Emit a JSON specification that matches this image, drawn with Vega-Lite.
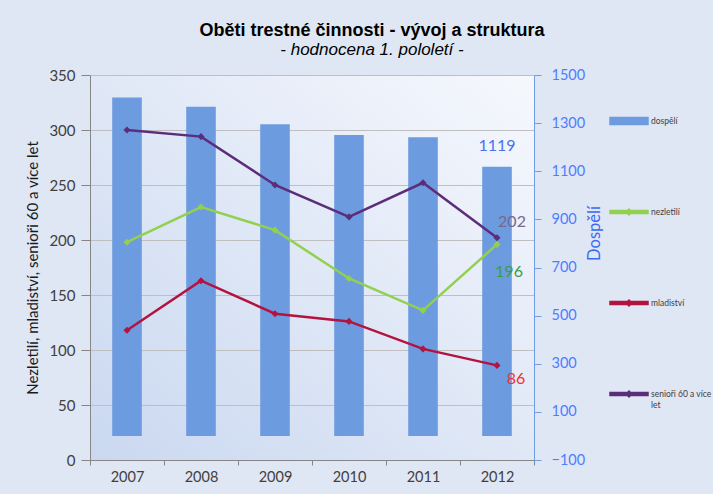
{
  "$schema": "https://vega.github.io/schema/vega-lite/v6.json",
  "width": 444,
  "height": 385,
  "autosize": {"type": "none"},
  "padding": {"left": 90, "top": 75, "right": 179, "bottom": 34},
  "background": "#dfe6f4",
  "config": {
    "font": "Lato",
    "view": {"stroke": null, "fill": {"gradient": "linear", "x1": 1, "y1": 0, "x2": 0, "y2": 1, "stops": [{"offset": 0, "color": "#f6f8fd"}, {"offset": 1, "color": "#cad8f0"}]}}
  },
  "title": {
    "text": "Oběti trestné činnosti - vývoj a struktura",
    "subtitle": "- hodnocena 1. pololetí -",
    "font": "Liberation Sans",
    "fontSize": 18,
    "fontWeight": "bold",
    "color": "#000000",
    "subtitleFont": "Liberation Sans",
    "subtitleFontSize": 17,
    "subtitleFontStyle": "italic",
    "subtitleColor": "#000000",
    "subtitlePadding": 2,
    "anchor": "middle",
    "frame": "group",
    "dx": 60,
    "offset": 9
  },
  "data": {
    "values": [
      {"year": "2007", "series": "dospělí", "value": 1407},
      {"year": "2008", "series": "dospělí", "value": 1368},
      {"year": "2009", "series": "dospělí", "value": 1295},
      {"year": "2010", "series": "dospělí", "value": 1251},
      {"year": "2011", "series": "dospělí", "value": 1241},
      {"year": "2012", "series": "dospělí", "value": 1119},
      {"year": "2007", "series": "nezletilí", "value": 198},
      {"year": "2008", "series": "nezletilí", "value": 230},
      {"year": "2009", "series": "nezletilí", "value": 209},
      {"year": "2010", "series": "nezletilí", "value": 165},
      {"year": "2011", "series": "nezletilí", "value": 136},
      {"year": "2012", "series": "nezletilí", "value": 196},
      {"year": "2007", "series": "mladiství", "value": 118},
      {"year": "2008", "series": "mladiství", "value": 163},
      {"year": "2009", "series": "mladiství", "value": 133},
      {"year": "2010", "series": "mladiství", "value": 126},
      {"year": "2011", "series": "mladiství", "value": 101},
      {"year": "2012", "series": "mladiství", "value": 86},
      {"year": "2007", "series": "senioři 60 a více let", "value": 300},
      {"year": "2008", "series": "senioři 60 a více let", "value": 294},
      {"year": "2009", "series": "senioři 60 a více let", "value": 250},
      {"year": "2010", "series": "senioři 60 a více let", "value": 221},
      {"year": "2011", "series": "senioři 60 a více let", "value": 252},
      {"year": "2012", "series": "senioři 60 a více let", "value": 202}
    ]
  },
  "encoding": {
    "x": {
      "field": "year",
      "type": "ordinal",
      "scale": {"paddingInner": 0, "paddingOuter": 0},
      "axis": {
        "title": null,
        "labelAngle": 0,
        "tickBand": "extent",
        "domainColor": "#868686",
        "tickColor": "#868686",
        "tickSize": 5,
        "labelFontSize": 14.5,
        "labelColor": "#404040",
        "labelPadding": 5
      }
    }
  },
  "layer": [
    {
      "transform": [{"filter": "datum.series == 'dospělí'"}],
      "mark": {"type": "bar", "width": {"band": 0.4}},
      "encoding": {
        "y": {
          "field": "value",
          "type": "quantitative",
          "scale": {"domain": [-100, 1500], "nice": false},
          "axis": {
            "orient": "right",
            "format": "d",
            "values": [-100, 100, 300, 500, 700, 900, 1100, 1300, 1500],
            "grid": false,
            "title": "Dospělí",
            "titleAngle": 270,
            "titleColor": "#3a6af5",
            "titleFontSize": 16.5,
            "titleFontWeight": "normal",
            "titlePadding": 18,
            "titleY": 158,
            "labelColor": "#4f7dff",
            "labelFontSize": 14.5,
            "labelPadding": 10,
            "domainColor": "#6e9ce6",
            "tickColor": "#6e9ce6",
            "tickSize": 7
          }
        },
        "y2": {"datum": 0},
        "color": {
          "field": "series",
          "type": "nominal",
          "scale": {
            "domain": ["dospělí", "nezletilí", "mladiství", "senioři 60 a více let"],
            "range": ["#6d9be0", "#92d050", "#b3133f", "#5c2d7a"]
          },
          "legend": {
            "orient": "none",
            "legendX": 519,
            "legendY": 26,
            "title": null,
            "symbolSize": 1444,
            "rowPadding": 64,
            "padding": 0,
            "symbolOffset": 0,
            "labelOffset": 2,
            "labelFontSize": 8.5,
            "labelColor": "#404040",
            "labelExpr": "datum.label == 'senioři 60 a více let' ? ['senioři 60 a více', 'let'] : datum.label"
          }
        }
      }
    },
    {
      "transform": [{"filter": "datum.series != 'dospělí'"}],
      "mark": {"type": "line", "strokeWidth": 2.5, "point": {"shape": "diamond", "filled": true, "size": 50}},
      "encoding": {
        "y": {
          "field": "value",
          "type": "quantitative",
          "scale": {"domain": [0, 350], "nice": false},
          "axis": {
            "orient": "left",
            "values": [0, 50, 100, 150, 200, 250, 300, 350],
            "grid": true,
            "gridColor": "#bfbfbf",
            "title": "Nezletilí, mladiství, senioři 60 a více let",
            "titleColor": "#1a1a1a",
            "titleFontSize": 15,
            "titleFontWeight": "normal",
            "titlePadding": 8,
            "labelColor": "#404040",
            "labelFontSize": 15,
            "labelPadding": 6,
            "domainColor": "#868686",
            "tickColor": "#868686",
            "tickSize": 9
          }
        },
        "color": {"field": "series", "type": "nominal"}
      }
    },
    {
      "mark": {"type": "point", "filled": true, "opacity": 0},
      "encoding": {
        "y": {"field": "value", "type": "quantitative", "scale": {"domain": [-100, 1500], "nice": false}, "axis": null},
        "color": {"field": "series", "type": "nominal"},
        "shape": {
          "field": "series",
          "type": "nominal",
          "scale": {
            "domain": ["dospělí", "nezletilí", "mladiství", "senioři 60 a více let"],
            "range": [
              "M-1,-0.18H1V0.18H-1Z",
              "M-1,-0.08H1V0.08H-1Z M-0.16,0L0,-0.16L0.16,0L0,0.16Z",
              "M-1,-0.08H1V0.08H-1Z M-0.16,0L0,-0.16L0.16,0L0,0.16Z",
              "M-1,-0.08H1V0.08H-1Z M-0.16,0L0,-0.16L0.16,0L0,0.16Z"
            ]
          },
          "legend": {
            "orient": "none",
            "legendX": 519,
            "legendY": 26,
            "title": null,
            "symbolSize": 1444,
            "rowPadding": 64,
            "padding": 0,
            "symbolOffset": 0,
            "labelOffset": 2,
            "labelFontSize": 8.5,
            "labelColor": "#404040",
            "labelExpr": "datum.label == 'senioři 60 a více let' ? ['senioři 60 a více', 'let'] : datum.label"
          }
        }
      }
    },
    {
      "transform": [{"filter": "datum.series == 'dospělí' && datum.year == '2012'"}],
      "mark": {"type": "text", "dy": -21, "fontSize": 16, "color": "#4a70f0"},
      "encoding": {
        "y": {"field": "value", "type": "quantitative", "scale": {"domain": [-100, 1500], "nice": false}, "axis": null},
        "text": {"field": "value", "type": "quantitative"}
      }
    },
    {
      "transform": [{"filter": "datum.series == 'senioři 60 a více let' && datum.year == '2012'"}],
      "mark": {"type": "text", "dx": 15, "dy": -16, "fontSize": 16, "color": "#77688c"},
      "encoding": {
        "y": {"field": "value", "type": "quantitative", "scale": {"domain": [0, 350], "nice": false}, "axis": null},
        "text": {"field": "value", "type": "quantitative"}
      }
    },
    {
      "transform": [{"filter": "datum.series == 'nezletilí' && datum.year == '2012'"}],
      "mark": {"type": "text", "dx": 12, "dy": 28, "fontSize": 16, "color": "#3c9b48"},
      "encoding": {
        "y": {"field": "value", "type": "quantitative", "scale": {"domain": [0, 350], "nice": false}, "axis": null},
        "text": {"field": "value", "type": "quantitative"}
      }
    },
    {
      "transform": [{"filter": "datum.series == 'mladiství' && datum.year == '2012'"}],
      "mark": {"type": "text", "dx": 19, "dy": 14, "fontSize": 16, "color": "#f03030"},
      "encoding": {
        "y": {"field": "value", "type": "quantitative", "scale": {"domain": [0, 350], "nice": false}, "axis": null},
        "text": {"field": "value", "type": "quantitative"}
      }
    }
  ],
  "resolve": {"scale": {"y": "independent"}, "axis": {"y": "independent"}}
}
